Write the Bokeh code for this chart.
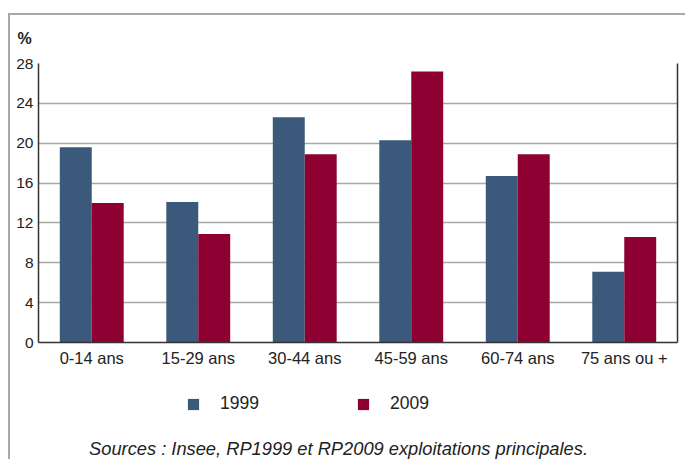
from bokeh.plotting import figure
from bokeh.layouts import column
from bokeh.models import (FactorRange, Range1d, LinearAxis, FixedTicker, Title, Label,
                          Legend, LegendItem, ColumnDataSource)
from bokeh.transform import dodge
from bokeh.embed import file_html
from bokeh.resources import INLINE

categories = ["0-14 ans", "15-29 ans", "30-44 ans", "45-59 ans", "60-74 ans", "75 ans ou +"]
values_1999 = [19.6, 14.1, 22.6, 20.3, 16.7, 7.1]
values_2009 = [14.0, 10.9, 18.9, 27.2, 18.9, 10.6]
y_ticks = [0, 4, 8, 12, 16, 20, 24, 28]
series_names = ["1999", "2009"]
source_text = "Sources : Insee, RP1999 et RP2009 exploitations principales."

BLUE = "#3b5a7b"
RED = "#8f0032"
FONT = "Liberation Sans"
TXT = "#222222"

src = ColumnDataSource(dict(cat=categories, v1999=values_1999, v2009=values_2009))

# ---- main chart ----
p = figure(width=675, height=370, x_range=FactorRange(*categories, range_padding=0),
           y_range=Range1d(0, 28), output_backend="svg", toolbar_location=None,
           min_border_left=28, min_border_right=8, min_border_top=48, min_border_bottom=43)
p.outline_line_color = None
p.background_fill_color = "white"
p.border_fill_color = "white"

p.vbar(x=dodge("cat", -0.15, range=p.x_range), top="v1999", width=0.3, source=src,
       fill_color=BLUE, line_color=None)
p.vbar(x=dodge("cat", 0.15, range=p.x_range), top="v2009", width=0.3, source=src,
       fill_color=RED, line_color=None)

p.xgrid.visible = False
p.ygrid.ticker = FixedTicker(ticks=y_ticks)
p.ygrid.grid_line_color = "#a8a8a8"
p.ygrid.grid_line_width = 1.5

ya = p.yaxis[0]
ya.ticker = FixedTicker(ticks=y_ticks)
ya.major_tick_line_color = None
ya.minor_tick_line_color = None
ya.major_tick_out = 0
ya.major_tick_in = 0
ya.axis_line_color = "#333333"
ya.axis_line_width = 1.5
ya.major_label_standoff = 5
ya.major_label_text_font = FONT
ya.major_label_text_font_size = "15.5px"
ya.major_label_text_color = TXT

xa = p.xaxis[0]
xa.major_tick_line_color = None
xa.minor_tick_line_color = None
xa.major_tick_out = 0
xa.major_tick_in = 0
xa.axis_line_color = "#333333"
xa.axis_line_width = 1.5
xa.major_label_standoff = 6
xa.major_label_text_font = FONT
xa.major_label_text_font_size = "16.5px"
xa.major_label_text_color = TXT

ra = LinearAxis(ticker=FixedTicker(ticks=[]), axis_line_color="#333333", axis_line_width=1.5,
                major_tick_line_color=None, minor_tick_line_color=None,
                major_tick_out=0, major_tick_in=0, major_label_text_font_size="0px")
p.add_layout(ra, "right")

p.add_layout(Title(text="%", align="left", offset=-21, standoff=29, vertical_align="top",
                   text_font=FONT, text_font_size="16px", text_color=TXT,
                   text_font_style="bold"), "above")

# ---- legend + source strip ----
p2 = figure(width=675, height=74, x_range=Range1d(0, 675), y_range=Range1d(0, 74),
            output_backend="svg", toolbar_location=None,
            x_axis_location=None, y_axis_location=None,
            min_border_left=0, min_border_right=0, min_border_top=0, min_border_bottom=0)
p2.outline_line_color = None
p2.xgrid.visible = False
p2.ygrid.visible = False
p2.border_fill_color = "white"

# legend swatches only: a zero-height point placed outside the visible range
off = ColumnDataSource(dict(x=[-1000], top=[0]))
g1 = p2.vbar(x="x", top="top", width=1, source=off, fill_color=BLUE, line_color=None)
g2 = p2.vbar(x="x", top="top", width=1, source=off, fill_color=RED, line_color=None)

legend = Legend(items=[LegendItem(label=series_names[0], renderers=[g1]),
                       LegendItem(label=series_names[1], renderers=[g2])],
                orientation="horizontal", location=(148, 45), margin=0,
                glyph_width=14, glyph_height=14, label_standoff=20, spacing=97,
                padding=0, border_line_color=None, background_fill_alpha=0,
                label_text_font=FONT, label_text_font_size="17.5px", label_text_color=TXT)
p2.add_layout(legend, "center")

p2.add_layout(Label(x=300, y=11, x_units="screen", y_units="screen", text=source_text,
                    text_font=FONT, text_font_size="18.3px", text_color=TXT,
                    text_font_style="italic", text_baseline="middle", text_align="center"))

layout = column(p, p2, spacing=0,
                styles={"margin-left": "8px", "margin-top": "13px",
                        "border-left": "2px solid #a8a8a8", "border-top": "2px solid #a8a8a8"})

open("out.html", "w").write(file_html(layout, INLINE))
